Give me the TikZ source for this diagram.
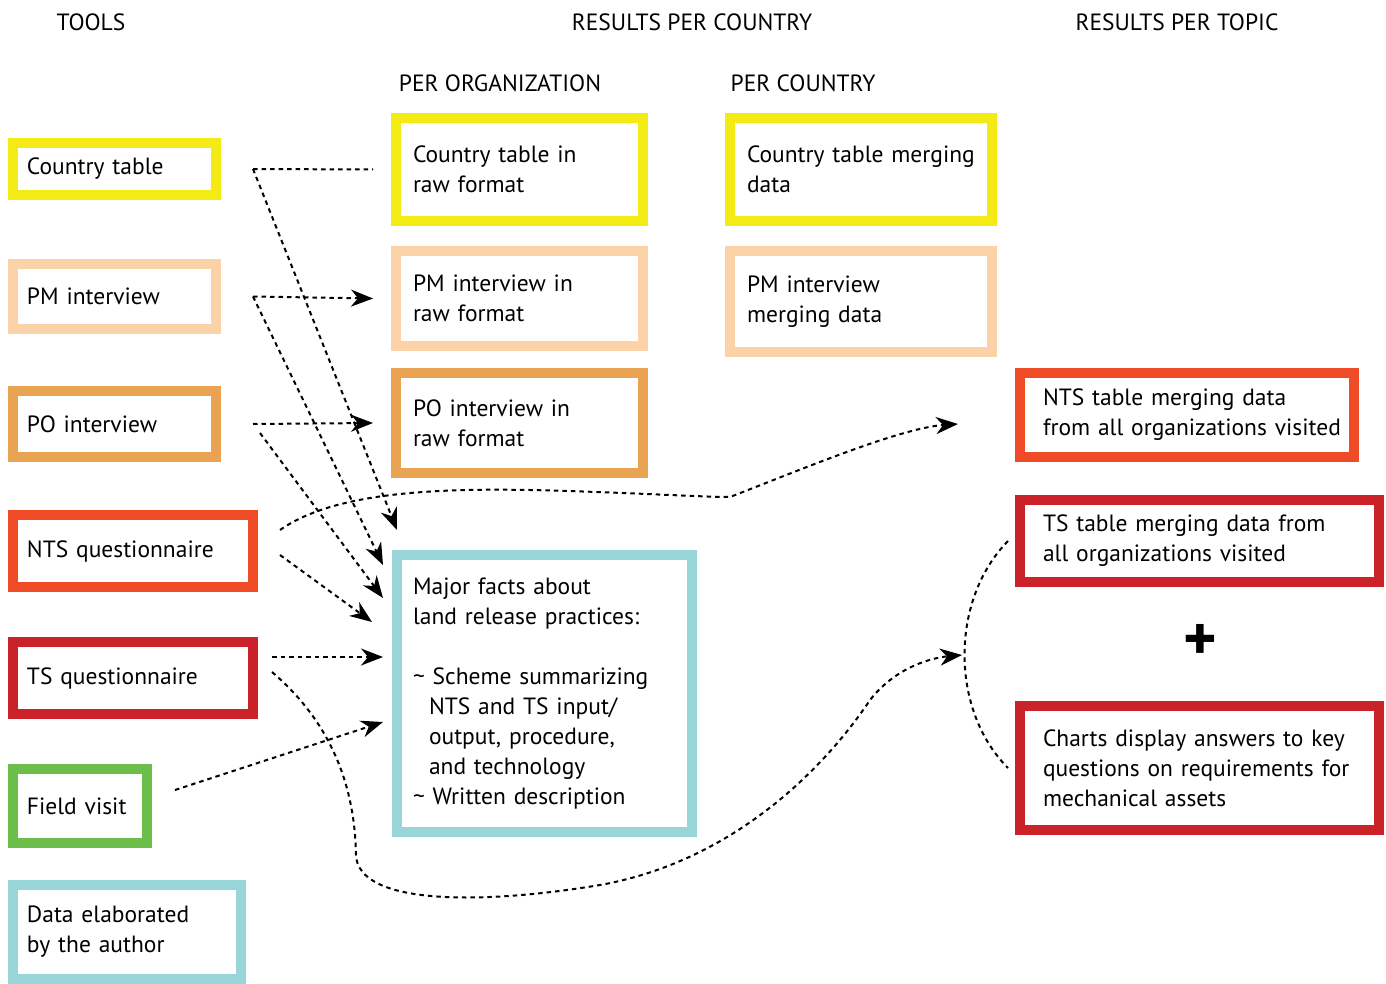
\documentclass[tikz,border=0pt]{standalone}
\usepackage{fontspec}
\setmainfont{PT Sans}
\usetikzlibrary{arrows.meta,calc}

\definecolor{ctyellow}{RGB}{244,234,20}
\definecolor{pmpeach}{RGB}{252,211,169}
\definecolor{poorange}{RGB}{233,163,82}
\definecolor{ntsred}{RGB}{238,75,38}
\definecolor{tsred}{RGB}{203,34,41}
\definecolor{fvgreen}{RGB}{108,190,75}
\definecolor{dateal}{RGB}{152,213,216}

\tikzset{
  tbox/.style={draw=#1, line width=10pt, outer sep=5pt, inner sep=0pt,
    anchor=north west, align=left, font=\fontsize{23.5}{30}\selectfont},
  head/.style={font=\fontsize{23.5}{26}\selectfont},
  link/.style={line width=2pt, dash pattern=on 4.5pt off 4pt},
  flow/.style={link, -{Stealth[length=22pt,width=17pt,inset=7pt]}}
}

\begin{document}
\begin{tikzpicture}[x=1pt,y=-1pt]
    \fill[white] (0,0) rectangle (1386,984);
    \useasboundingbox (0,0) rectangle (1386,984);
    % Column headings
    \node[head] (tools-h) at (91,22) {TOOLS};
    \node[head] (country-h) at (692,22) {RESULTS PER COUNTRY};
    \node[head] (topic-h) at (1177,22) {RESULTS PER TOPIC};
    \node[head] (org-h) at (500,83) {PER ORGANIZATION};
    \node[head] (percountry-h) at (803,83) {PER COUNTRY};
    % Tools
    \node[tbox=ctyellow, minimum width=203pt, minimum height=52pt, text width=175pt] (ct) at (8,138) {Country table};
    \node[tbox=pmpeach, minimum width=203pt, minimum height=65pt, text width=175pt] (pm) at (8,259) {PM interview};
    \node[tbox=poorange, minimum width=203pt, minimum height=66pt, text width=175pt] (po) at (8,386) {PO interview};
    \node[tbox=ntsred, minimum width=240pt, minimum height=72pt, text width=212pt] (nts) at (8,510) {NTS questionnaire};
    \node[tbox=tsred, minimum width=240pt, minimum height=72pt, text width=212pt] (ts) at (8,637) {TS questionnaire};
    \node[tbox=fvgreen, minimum width=134pt, minimum height=74pt, text width=106pt] (fv) at (8,764) {Field visit};
    \node[tbox=dateal, minimum width=228pt, minimum height=94pt, text width=200pt] (da) at (8,880) {Data elaborated\\by the author};
    % Results per organization
    \node[tbox=ctyellow, minimum width=247pt, minimum height=103pt, text width=213pt] (ctraw) at (391,113) {Country table in\\raw format};
    \node[tbox=pmpeach, minimum width=247pt, minimum height=95pt, text width=213pt] (pmraw) at (391,246) {PM interview in\\raw format};
    \node[tbox=poorange, minimum width=247pt, minimum height=100pt, text width=213pt] (poraw) at (391,368) {PO interview in\\raw format};
    \node[tbox=dateal, minimum width=295pt, minimum height=277pt, text width=263pt] (mf) at (392,550)
      {Major facts about\\land release practices:\\[30pt]
       \textasciitilde{} Scheme summarizing\\
       \hspace*{16pt}NTS and TS input/\\
       \hspace*{16pt}output, procedure,\\
       \hspace*{16pt}and technology\\
       \textasciitilde{} Written description};
    % Results per country
    \node[tbox=ctyellow, minimum width=262pt, minimum height=103pt, text width=228pt] (ctmerge) at (725,113) {\mbox{Country table merging}\\data};
    \node[tbox=pmpeach, minimum width=262pt, minimum height=101pt, text width=228pt] (pmmerge) at (725,246) {PM interview\\merging data};
    % Results per topic
    \node[tbox=ntsred, minimum width=334pt, minimum height=84pt, text width=288pt] (ntsmerge) at (1015,368) {NTS table merging data\\\mbox{from all organizations visited}};
    \node[tbox=tsred, minimum width=359pt, minimum height=82pt, text width=313pt] (tsmerge) at (1015,495) {\mbox{TS table merging data from}\\all organizations visited};
    \node[font=\fontsize{64}{64}\selectfont\bfseries] (plus) at (1200,642) {+};
    \node[tbox=tsred, minimum width=359pt, minimum height=124pt, text width=313pt] (charts) at (1015,701) {\mbox{Charts display answers to key}\\\mbox{questions on requirements for}\\mechanical assets};
    \coordinate (join) at (962,655);
    % Country table
    \draw[link] ([xshift=32pt]ct.east) -- ([xshift=-18pt]ctraw.west);
    \draw[flow] ([xshift=32pt]ct.east) -- ([shift={(5pt,20pt)}]mf.north west);
    % PM and PO interviews
    \draw[flow] ([xshift=32pt]pm.east) -- ([xshift=-18pt]pmraw.west);
    \draw[flow] ([xshift=32pt]pm.east) -- ([shift={(-9pt,-15pt)}]mf.north west);
    \draw[flow] ([xshift=32pt]po.east) -- ([xshift=-18pt]poraw.west);
    \draw[flow] ([shift={(39pt,-9pt)}]po.east) -- ([shift={(-9pt,-48pt)}]mf.north west);
    % NTS questionnaire
    \draw[flow] ([shift={(22pt,-4pt)}]nts.east) -- ([shift={(-20pt,-72pt)}]mf.north west);
    \draw[flow] ([shift={(22pt,21pt)}]nts.east) .. controls (330,495) and (420,488) .. (530,490)
      .. controls (620,492) and (700,497) .. (730,497)
      .. controls (800,470) and (900,428) .. ([shift={(-57pt,-9pt)}]ntsmerge.west);
    % TS questionnaire
    \draw[flow] ([shift={(14pt,21pt)}]ts.east) -- ([shift={(-9pt,-107pt)}]mf.north west);
    \draw[flow] ([shift={(14pt,6pt)}]ts.east) .. controls (340,730) and (355,800) .. (356,855)
      .. controls (358,905) and (480,905) .. (600,885)
      .. controls (740,860) and (830,760) .. (870,700)
      .. controls (895,668) and (930,658) .. (join);
    % Field visit
    \draw[flow] ([shift={(23pt,16pt)}]fv.east) -- ([shift={(-9pt,-172pt)}]mf.north west);
    % TS table and charts together
    \draw[link] ([xshift=-7pt]tsmerge.west) .. controls (950,600) and (950,710) .. ([xshift=-7pt]charts.west);
\end{tikzpicture}
\end{document}
